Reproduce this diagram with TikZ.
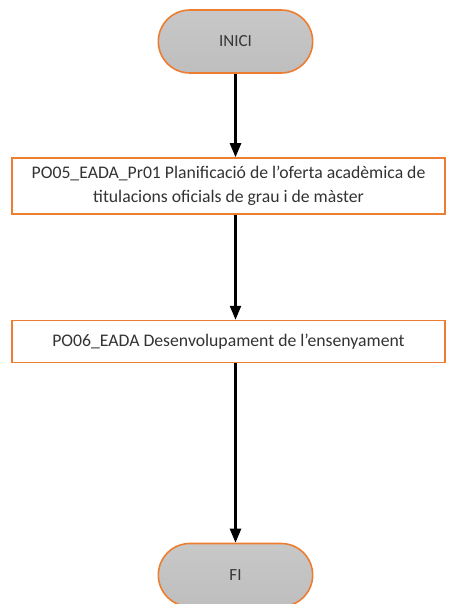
\documentclass[tikz,border=0pt]{standalone}
\usepackage{fontspec}
\setmainfont{Carlito}
\usetikzlibrary{arrows.meta,positioning,shapes.misc}

\definecolor{edgeorange}{RGB}{237,125,49}
\definecolor{termgray}{RGB}{190,190,190}
\definecolor{txtgray}{RGB}{55,55,55}

\begin{document}
\begin{tikzpicture}[
  x=1pt, y=-1pt,
  term/.style={rounded rectangle, draw=edgeorange, line width=1.6pt,
               top color=termgray!85, bottom color=termgray,
               minimum width=161pt, minimum height=63pt,
               font=\fontsize{17}{20}\selectfont, text=txtgray},
  proc/.style={draw=edgeorange, line width=1.5pt, fill=white,
               minimum width=433pt, align=center, inner sep=2pt,
               font=\fontsize{17.7}{23.5}\selectfont, text=black!80},
  arr/.style={-{Triangle[length=14pt,width=11pt]}, line width=2.4pt},
]
\useasboundingbox (0,0) rectangle (452,604);

%% ---- Terminators ----
\node[term] (ini) at (235.5, 41.5) {INICI};
\node[term] (fi)  at (235.5, 575)  {FI};

%% ---- Process boxes ----
\node[proc, minimum height=56pt] (pla) at (228.5, 186)
  {PO05\_EADA\_Pr01 Planificació de l’oferta acadèmica de\\titulacions oficials de grau i de màster};
\node[proc, minimum height=42pt] (des) at (228.5, 341.5)
  {PO06\_EADA Desenvolupament de l’ensenyament};

%% ---- Flow ----
\draw[arr] (ini.south) -- (ini.south |- pla.north);
\draw[arr] (ini.south |- pla.south) -- (ini.south |- des.north);
\draw[arr] (ini.south |- des.south) -- (fi.north);

\end{tikzpicture}
\end{document}
